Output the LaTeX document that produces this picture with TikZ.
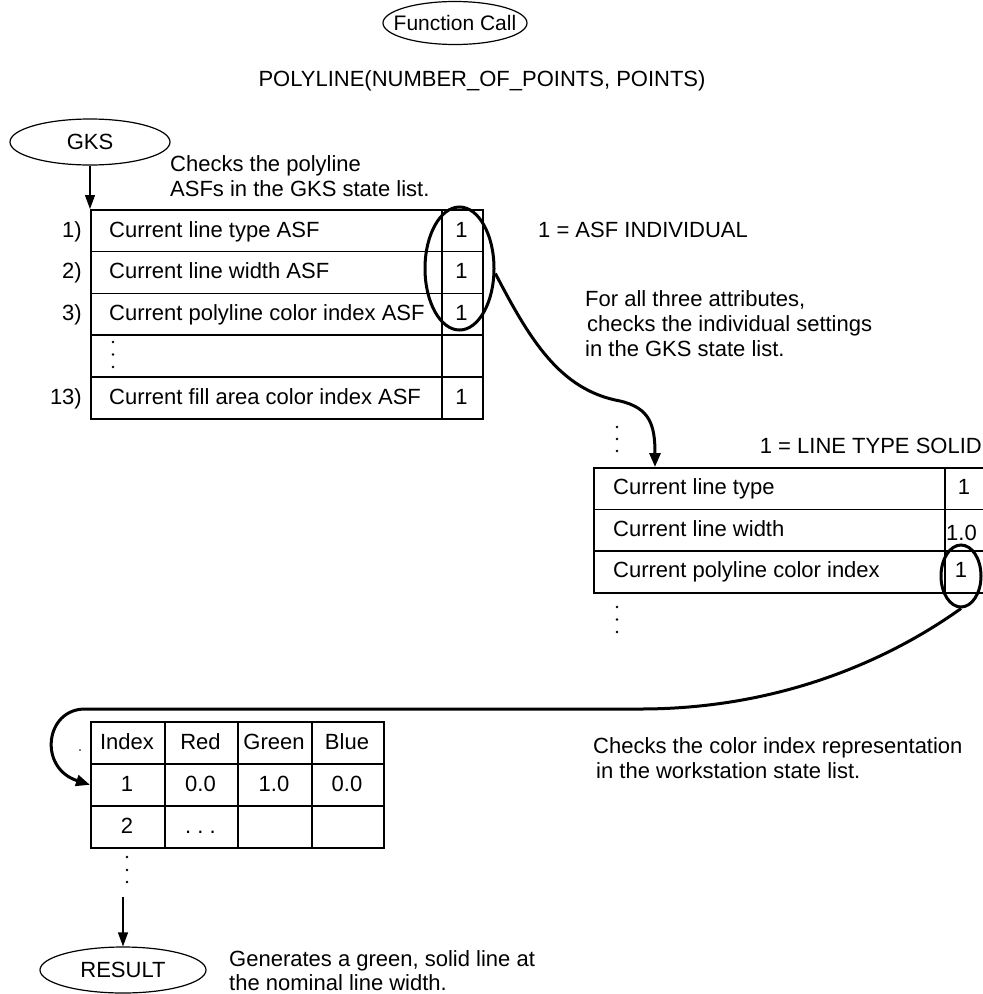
\documentclass[tikz,border=0pt]{standalone}
\usepackage{fontspec}
\setmainfont{Liberation Sans}
\usetikzlibrary{shapes.geometric,arrows.meta}
\begin{document}
\begin{tikzpicture}[x=1pt,y=-1pt,
  txt/.style={font=\fontsize{22}{25}\selectfont, inner sep=0pt},
  oval/.style={draw, ellipse, line width=1.2pt, inner sep=0pt, font=\fontsize{22}{25}\selectfont},
  cell/.style={draw, rectangle, line width=1.6pt, inner sep=0pt, anchor=north west},
  hl/.style={draw, ellipse, line width=3pt, inner sep=0pt},
  bigarrow/.style={line width=3pt, -{Triangle[length=14pt,width=11pt]}},
  thinarrow/.style={line width=1.2pt, -{Triangle[length=14pt,width=10pt]}},
]
\useasboundingbox (0,0) rectangle (983,994);

% top
\node[oval, minimum width=144pt, minimum height=43pt, font=\fontsize{21}{25}\selectfont] (fc) at (455,23) {\makebox[0pt]{Function Call}};
\node[txt, anchor=base] (poly) at (482,86) {POLYLINE(NUMBER\_OF\_POINTS, POINTS)};

% GKS
\node[oval, minimum width=160pt, minimum height=46pt] (gks) at (90,142) {\makebox[0pt]{GKS}};
\node[txt, anchor=base west] (chk1a) at (170,171.5) {Checks the polyline};
\node[txt, anchor=base west] (chk1b) at (170,196.5) {ASFs in the GKS state list.};

% table 1
\node[cell, minimum width=351pt, minimum height=41.8pt] (a1) at (90,209) {};
\node[cell, minimum width=41pt, minimum height=41.8pt] (b1) at (441,209) {};
\node[cell, minimum width=351pt, minimum height=41.8pt] (a2) at (90,250.8) {};
\node[cell, minimum width=41pt, minimum height=41.8pt] (b2) at (441,250.8) {};
\node[cell, minimum width=351pt, minimum height=41.8pt] (a3) at (90,292.6) {};
\node[cell, minimum width=41pt, minimum height=41.8pt] (b3) at (441,292.6) {};
\node[cell, minimum width=351pt, minimum height=41.8pt] (a4) at (90,334.4) {};
\node[cell, minimum width=41pt, minimum height=41.8pt] (b4) at (441,334.4) {};
\node[cell, minimum width=351pt, minimum height=41.8pt] (a5) at (90,376.2) {};
\node[cell, minimum width=41pt, minimum height=41.8pt] (b5) at (441,376.2) {};

\node[txt, anchor=base east] (l1) at (82,237) {1)};
\node[txt, anchor=base east] (l2) at (82,278.8) {2)};
\node[txt, anchor=base east] (l3) at (82,320.6) {3)};
\node[txt, anchor=base east] (l5) at (82,404.2) {13)};
\node[txt, anchor=base west] (ta1) at (109,237) {Current line type ASF};
\node[txt, anchor=base west] (ta2) at (109,278.8) {Current line width ASF};
\node[txt, anchor=base west] (ta3) at (109,320.6) {Current polyline color index ASF};
\node[txt, anchor=base west] (ta5) at (109,404.2) {Current fill area color index ASF};
\node[txt, anchor=base] (tb1) at (461.5,237) {1};
\node[txt, anchor=base] (tb2) at (461.5,278.8) {1};
\node[txt, anchor=base] (tb3) at (461.5,320.6) {1};
\node[txt, anchor=base] (tb5) at (461.5,404.2) {1};
\foreach \yy in {342,354.5,367} \fill (113,\yy) circle (1.3);

\node[hl, minimum width=69pt, minimum height=123pt] (E1) at (459.5,268.5) {};

\draw[thinarrow] (gks.south) -- (a1.north west);

\node[txt, anchor=base west] (asf) at (538,237) {1 = ASF INDIVIDUAL};
\node[txt, anchor=base west] (fa1) at (585,306.7) {For all three attributes,};
\node[txt, anchor=base west] (fa2) at (587,331.7) {checks the individual settings};
\node[txt, anchor=base west] (fa3) at (585,356.7) {in the GKS state list.};

% table 2
\node[cell, minimum width=351pt, minimum height=41.7pt] (c1) at (593,467) {};
\node[cell, minimum width=70pt, minimum height=41.7pt] (d1) at (944,467) {};
\node[cell, minimum width=351pt, minimum height=41.7pt] (c2) at (593,508.7) {};
\node[cell, minimum width=70pt, minimum height=41.7pt] (d2) at (944,508.7) {};
\node[cell, minimum width=351pt, minimum height=41.7pt] (c3) at (593,550.4) {};
\node[cell, minimum width=70pt, minimum height=41.7pt] (d3) at (944,550.4) {};
\node[txt, anchor=base west] (tc1) at (613,494.5) {Current line type};
\node[txt, anchor=base west] (tc2) at (613,536.2) {Current line width};
\node[txt, anchor=base west] (tc3) at (613,577.9) {Current polyline color index};
\node[txt, anchor=base] (td1) at (964,494.5) {1};
\node[txt, anchor=base west] (td2) at (946,540) {1.0};
\node[txt, anchor=base] (td3) at (961,577.9) {1};
\node[txt, anchor=base east] (solid) at (982,453) {1 = LINE TYPE SOLID};
\foreach \yy in {427,439,451} \fill (617,\yy) circle (1.3);
\foreach \yy in {607,619.5,632} \fill (617,\yy) circle (1.3);

\node[hl, minimum width=40pt, minimum height=62pt] (E2) at (961,576) {};

\coordinate (t2top) at ([xshift=62pt]c1.north west);
\draw[bigarrow] (E1.-8) .. controls (530,340) and (560,390) .. (620,401)
  .. controls (650,408) and (655,425) .. (t2top);

% colour table
\node[cell, minimum width=74pt, minimum height=42pt] (i0) at (90,721) {};
\node[cell, minimum width=73pt, minimum height=42pt] (r0) at (164,721) {};
\node[cell, minimum width=74pt, minimum height=42pt] (g0) at (237,721) {};
\node[cell, minimum width=72pt, minimum height=42pt] (u0) at (311,721) {};
\node[cell, minimum width=74pt, minimum height=42pt] (i1) at (90,763) {};
\node[cell, minimum width=73pt, minimum height=42pt] (r1) at (164,763) {};
\node[cell, minimum width=74pt, minimum height=42pt] (g1) at (237,763) {};
\node[cell, minimum width=72pt, minimum height=42pt] (u1) at (311,763) {};
\node[cell, minimum width=74pt, minimum height=42pt] (i2) at (90,805) {};
\node[cell, minimum width=73pt, minimum height=42pt] (r2) at (164,805) {};
\node[cell, minimum width=74pt, minimum height=42pt] (g2) at (237,805) {};
\node[cell, minimum width=72pt, minimum height=42pt] (u2) at (311,805) {};
\node[txt, anchor=base] (hi) at (127,749) {Index};
\node[txt, anchor=base] (hr) at (200.5,749) {Red};
\node[txt, anchor=base] (hg) at (274,749) {Green};
\node[txt, anchor=base] (hb) at (347,749) {Blue};
\node[txt, anchor=base] (v1) at (127,791) {1};
\node[txt, anchor=base] (v2) at (200.5,791) {0.0};
\node[txt, anchor=base] (v3) at (274,791) {1.0};
\node[txt, anchor=base] (v4) at (347,791) {0.0};
\node[txt, anchor=base] (w1) at (127,833) {2};
\node[txt, anchor=base] (w2) at (200.5,833) {.\ .\ .};
\fill (80,750) circle (0.9);
\foreach \yy in {857,870,882} \fill (127,\yy) circle (1.3);

\draw[bigarrow] (E2.south) .. controls (910,645) and (800,709) .. (640,709)
  -- (85,709) .. controls (45,709) and (38,768) .. (i1.west);

\node[txt, anchor=base west] (chk2a) at (593,753) {Checks the color index representation};
\node[txt, anchor=base west] (chk2b) at (596,778) {in the workstation state list.};

% result
\node[oval, minimum width=166pt, minimum height=46pt] (res) at (123,970) {\makebox[0pt]{RESULT}};
\coordinate (rs) at (123,897);
\draw[thinarrow] (rs) -- (res.north);
\node[txt, anchor=base west] (gen1) at (229,966) {Generates a green, solid line at};
\node[txt, anchor=base west] (gen2) at (229,990) {the nominal line width.};
\end{tikzpicture}
\end{document}
